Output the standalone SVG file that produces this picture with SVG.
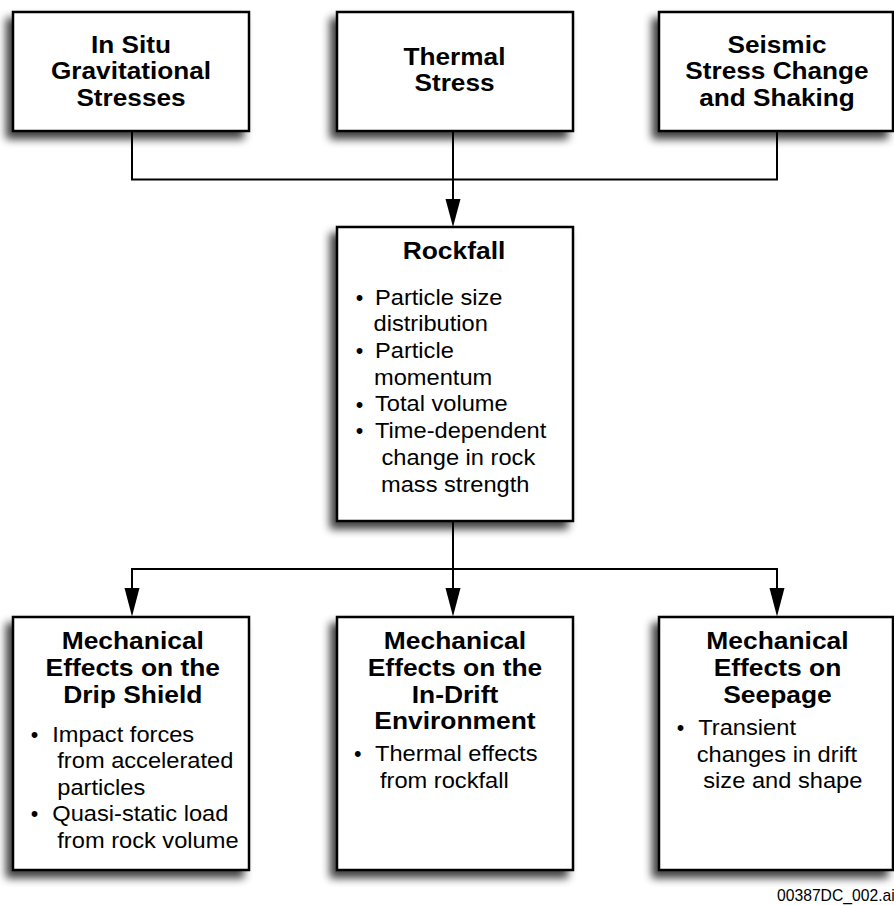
<svg xmlns="http://www.w3.org/2000/svg" width="894" height="905" viewBox="0 0 894 905">
<style>
.box { fill: #fff; stroke: #000; stroke-width: 2.5; filter: url(#sh); }
.ln { fill: none; stroke: #000; stroke-width: 2; }
.ar { fill: #000; stroke: none; }
text { font-family: "Liberation Sans", Arial, sans-serif; fill: #000; }
.hd { font-weight: bold; font-size: 23.6px; text-anchor: middle; transform-box: fill-box; transform-origin: center; transform: scaleX(1.11); }
.tb { font-weight: bold; font-size: 24px; text-anchor: middle; transform-box: fill-box; transform-origin: center; transform: scaleX(1.1); }
.bd { font-size: 21.5px; transform-box: fill-box; transform-origin: left center; transform: scaleX(1.1); }
.bu { font-size: 21.5px; }
.lab { font-size: 15.7px; }
</style>
<defs>
<filter id="sh" x="-20%" y="-20%" width="140%" height="140%">
<feGaussianBlur in="SourceAlpha" stdDeviation="4.5"/>
<feOffset dx="-6" dy="7" result="o"/>
<feComponentTransfer in="o" result="s"><feFuncA type="linear" slope="0.75"/></feComponentTransfer>
<feMerge><feMergeNode in="s"/><feMergeNode in="SourceGraphic"/></feMerge>
</filter>
</defs>
<rect width="894" height="905" fill="#fff"/>

<g id="connectors">
<path class="ln" d="M132,131 V179.5 H777 V131"/>
<path class="ln" d="M453,131 V200"/>
<polygon class="ar" points="445.5,199 460.5,199 453,227"/>
<path class="ln" d="M453,521 V589"/>
<path class="ln" d="M132,589 V569 H777 V589"/>
<polygon class="ar" points="124.5,588 139.5,588 132,616.5"/>
<polygon class="ar" points="445.5,588 460.5,588 453,616.5"/>
<polygon class="ar" points="769.5,588 784.5,588 777,616.5"/>
</g>

<g id="insitu">
<rect class="box" x="13" y="12" width="236" height="119"/>
<text class="hd" x="131" y="53">In Situ</text>
<text class="hd" x="131" y="79.5">Gravitational</text>
<text class="hd" x="131" y="106">Stresses</text>
</g>

<g id="thermal">
<rect class="box" x="337" y="12" width="236" height="119"/>
<text class="hd" x="454.5" y="65">Thermal</text>
<text class="hd" x="454.5" y="91.5">Stress</text>
</g>

<g id="seismic">
<rect class="box" x="659" y="12" width="234" height="119"/>
<text class="hd" x="777" y="53">Seismic</text>
<text class="hd" x="777" y="79.5">Stress Change</text>
<text class="hd" x="777" y="106">and Shaking</text>
</g>

<g id="rockfall">
<rect class="box" x="337" y="227" width="236" height="294"/>
<text class="tb" x="454" y="259.3">Rockfall</text>
<text class="bu" x="355.7" y="305">•</text>
<text class="bd" x="375" y="305">Particle size</text>
<text class="bd" x="373.5" y="331.5">distribution</text>
<text class="bu" x="355.7" y="358">•</text>
<text class="bd" x="375" y="358">Particle</text>
<text class="bd" x="374" y="384.7">momentum</text>
<text class="bu" x="355.7" y="411.5">•</text>
<text class="bd" x="375" y="411.5">Total volume</text>
<text class="bu" x="355.7" y="438.2">•</text>
<text class="bd" x="375" y="438.2">Time-dependent</text>
<text class="bd" x="381.5" y="465">change in rock</text>
<text class="bd" x="381" y="491.7">mass strength</text>
</g>

<g id="dripshield">
<rect class="box" x="13" y="617" width="236" height="253"/>
<text class="tb" x="132.8" y="649.3">Mechanical</text>
<text class="tb" x="132.8" y="676">Effects on the</text>
<text class="tb" x="132.8" y="702.7">Drip Shield</text>
<text class="bu" x="30.7" y="741.7">•</text>
<text class="bd" x="52.3" y="741.7">Impact forces</text>
<text class="bd" x="57.3" y="768.2">from accelerated</text>
<text class="bd" x="57.3" y="794.7">particles</text>
<text class="bu" x="30.7" y="821.2">•</text>
<text class="bd" x="52.3" y="821.2">Quasi-static load</text>
<text class="bd" x="57.3" y="847.7">from rock volume</text>
</g>

<g id="indrift">
<rect class="box" x="337" y="617" width="236" height="253"/>
<text class="tb" x="455" y="649.3">Mechanical</text>
<text class="tb" x="455" y="676">Effects on the</text>
<text class="tb" x="455" y="702.7">In-Drift</text>
<text class="tb" x="455" y="729.3">Environment</text>
<text class="bu" x="354" y="761">•</text>
<text class="bd" x="375" y="761">Thermal effects</text>
<text class="bd" x="380" y="788">from rockfall</text>
</g>

<g id="seepage">
<rect class="box" x="659" y="617" width="234" height="253"/>
<text class="tb" x="777.5" y="649.3">Mechanical</text>
<text class="tb" x="777.5" y="676">Effects on</text>
<text class="tb" x="777.5" y="702.7">Seepage</text>
<text class="bu" x="676.7" y="735">•</text>
<text class="bd" x="698.3" y="735">Transient</text>
<text class="bd" x="696.7" y="761.7">changes in drift</text>
<text class="bd" x="703.3" y="788.3">size and shape</text>
</g>

<text class="lab" x="777" y="901">00387DC_002.ai</text>
</svg>
